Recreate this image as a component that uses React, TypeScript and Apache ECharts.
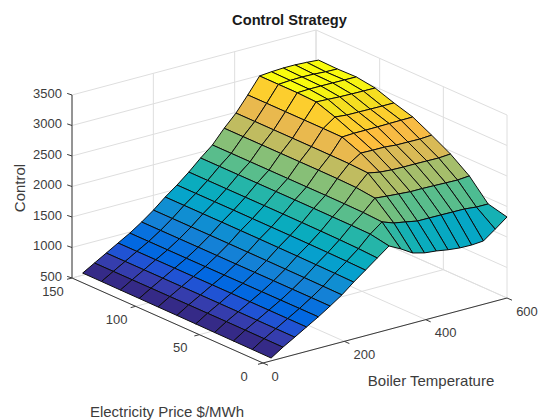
import React, { useEffect, useRef } from "react";
import * as echarts from "echarts";

const titleText = "Control Strategy";
const temperatureLabel = "Boiler Temperature";
const priceLabel = "Electricity Price $/MWh";
const controlLabel = "Control";

const temperatureTicks = [0, 200, 400, 600];
const priceTicks = [0, 50, 100, 150];
const controlTicks = [500, 1000, 1500, 2000, 2500, 3000, 3500];

const temperatures = [20, 49, 78, 107, 136, 165, 194, 223, 252, 281, 310, 339, 368, 397, 426, 455, 484, 513, 542, 571, 600];
const prices = [0, 14.8, 29.6, 44.4, 59.2, 74, 88.8, 103.6, 118.4, 133.2, 148];

// one row per temperature, one column per price
const control = [
  [546, 548, 550, 552, 555, 557, 558, 560, 561, 563, 564],
  [672, 674, 676, 678, 678, 678, 677, 677, 677, 677, 677],
  [785, 786, 787, 788, 788, 789, 789, 789, 789, 789, 789],
  [900, 900, 901, 901, 902, 902, 902, 902, 902, 902, 902],
  [1015, 1015, 1014, 1014, 1014, 1013, 1013, 1013, 1013, 1013, 1013],
  [1140, 1141, 1141, 1142, 1142, 1142, 1143, 1143, 1143, 1143, 1143],
  [1272, 1276, 1280, 1282, 1284, 1285, 1286, 1287, 1287, 1287, 1287],
  [1430, 1436, 1440, 1444, 1446, 1448, 1449, 1450, 1450, 1450, 1450],
  [1575, 1582, 1587, 1590, 1592, 1593, 1594, 1595, 1595, 1595, 1595],
  [1722, 1738, 1746, 1750, 1753, 1755, 1756, 1756, 1756, 1756, 1756],
  [1868, 1925, 1930, 1932, 1934, 1935, 1935, 1935, 1935, 1935, 1935],
  [1768, 2073, 2090, 2095, 2097, 2097, 2097, 2097, 2097, 2097, 2097],
  [1650, 2004, 2274, 2310, 2318, 2320, 2320, 2320, 2320, 2320, 2320],
  [1600, 1970, 2255, 2497, 2512, 2515, 2517, 2517, 2517, 2517, 2517],
  [1580, 1933, 2240, 2460, 2635, 2760, 2763, 2763, 2763, 2763, 2763],
  [1548, 1932, 2225, 2445, 2630, 2770, 2900, 3009, 3022, 3022, 3022],
  [1527, 1930, 2225, 2440, 2630, 2770, 2880, 3000, 3030, 3035, 3040],
  [1523, 1927, 2220, 2440, 2612, 2772, 2878, 2990, 3030, 3040, 3050],
  [1538, 1925, 2215, 2437, 2610, 2775, 2875, 2985, 3028, 3035, 3050],
  [1680, 1905, 2210, 2434, 2607, 2778, 2873, 2982, 3026, 3022, 3040],
  [1828, 1904, 2226, 2448, 2620, 2780, 2873, 2980, 3025, 3017, 3025],
];

const parula = [
  [0.2081,0.1663,0.5292],[0.2116,0.1898,0.5777],[0.2123,0.2138,0.627],[0.2081,0.2386,0.6771],
  [0.1959,0.2645,0.7279],[0.1707,0.2919,0.7792],[0.1253,0.3242,0.8303],[0.0591,0.3598,0.8683],
  [0.0117,0.3875,0.882],[0.006,0.4086,0.8828],[0.0165,0.4266,0.8786],[0.0329,0.443,0.872],
  [0.0498,0.4586,0.8641],[0.0629,0.4737,0.8554],[0.0723,0.4887,0.8467],[0.0779,0.504,0.8384],
  [0.0793,0.52,0.8312],[0.0749,0.5375,0.8263],[0.0641,0.557,0.824],[0.0488,0.5772,0.8228],
  [0.0343,0.5966,0.8199],[0.0265,0.6137,0.8135],[0.0239,0.6287,0.8038],[0.0231,0.6418,0.7913],
  [0.0228,0.6535,0.7768],[0.0267,0.6642,0.7607],[0.0384,0.6743,0.7436],[0.059,0.6838,0.7254],
  [0.0843,0.6928,0.7062],[0.1133,0.7015,0.6859],[0.1453,0.7098,0.6646],[0.1801,0.7177,0.6424],
  [0.2178,0.725,0.6193],[0.2586,0.7317,0.5954],[0.3022,0.7376,0.5712],[0.3482,0.7424,0.5473],
  [0.3953,0.7459,0.5244],[0.442,0.7481,0.5033],[0.4871,0.7491,0.484],[0.53,0.7491,0.4661],
  [0.5709,0.7485,0.4494],[0.6099,0.7473,0.4337],[0.6473,0.7456,0.4188],[0.6834,0.7435,0.4044],
  [0.7184,0.7411,0.3905],[0.7525,0.7384,0.3768],[0.7858,0.7356,0.3633],[0.8185,0.7327,0.3498],
  [0.8507,0.7299,0.336],[0.8824,0.7274,0.3217],[0.9139,0.7258,0.3063],[0.945,0.7261,0.2886],
  [0.9739,0.7314,0.2666],[0.9938,0.7455,0.2403],[0.999,0.7653,0.2164],[0.9955,0.7861,0.1967],
  [0.988,0.8066,0.1794],[0.9789,0.8271,0.1633],[0.9697,0.8481,0.1475],[0.9626,0.8705,0.1309],
  [0.9589,0.8949,0.1132],[0.9598,0.9218,0.0948],[0.9661,0.9514,0.0755],[0.9763,0.9831,0.0538],
];

const T_MAX = 600;
const P_MAX = 150;
const Z_MIN = 500;
const Z_MAX = 3500;

// orthographic view of the 3D box onto the page plane
const project = (t: number, p: number, z: number) => [
  263 + (t / T_MAX) * 244 - (p / P_MAX) * 191,
  363 - (t / T_MAX) * 65 - (p / P_MAX) * 85 - ((z - Z_MIN) / (Z_MAX - Z_MIN)) * 183,
];

const flat = control.flat();
const cMin = Math.min(...flat);
const cMax = Math.max(...flat);
const colorOf = (z: number) => {
  const k = Math.min(63, Math.floor(((z - cMin) / (cMax - cMin)) * 64));
  const c = parula[k];
  return `rgb(${Math.round(c[0] * 255)},${Math.round(c[1] * 255)},${Math.round(c[2] * 255)})`;
};

const GRID = "#dedede";
const AXIS = "#3a3a3a";
const TEXT = "#3c3c3c";
const FONT = "Liberation Sans, Arial, sans-serif";

type Seg = [number[], number[], string];
const gridSegs: Seg[] = [];
controlTicks.forEach((z) => {
  gridSegs.push([[0, P_MAX, z], [T_MAX, P_MAX, z], GRID]);
  gridSegs.push([[T_MAX, P_MAX, z], [T_MAX, 0, z], GRID]);
});
temperatureTicks.forEach((t) => {
  gridSegs.push([[t, 0, Z_MIN], [t, P_MAX, Z_MIN], GRID]);
  gridSegs.push([[t, P_MAX, Z_MIN], [t, P_MAX, Z_MAX], GRID]);
});
priceTicks.forEach((p) => {
  gridSegs.push([[0, p, Z_MIN], [T_MAX, p, Z_MIN], GRID]);
  gridSegs.push([[T_MAX, p, Z_MIN], [T_MAX, p, Z_MAX], GRID]);
});

const axisSegs: Seg[] = [
  [[0, P_MAX, Z_MIN], [0, P_MAX, Z_MAX], AXIS],
  [[0, 0, Z_MIN], [0, P_MAX, Z_MIN], AXIS],
  [[0, 0, Z_MIN], [T_MAX, 0, Z_MIN], AXIS],
];

const cells: number[][] = [];
for (let i = temperatures.length - 2; i >= 0; i--) {
  for (let j = prices.length - 2; j >= 0; j--) cells.push([i, j]);
}

type Label = { text: string; anchor: number[]; dx: number; dy: number; align: string };
const labels: Label[] = [
  ...controlTicks.map((z) => ({ text: String(z), anchor: [0, P_MAX, z], dx: -10, dy: -1.8, align: "right" })),
  ...priceTicks.map((p) => ({ text: String(p), anchor: [0, p, Z_MIN], dx: -19, dy: 13, align: "center" })),
  ...temperatureTicks.map((t) => ({ text: String(t), anchor: [t, 0, Z_MIN], dx: t === 0 ? 12 : 20, dy: 13, align: "center" })),
];

const tickSegments = () => {
  const out: number[][][] = [];
  const add = (a: number[], dx: number, dy: number) => {
    const s = project(a[0], a[1], a[2]);
    out.push([s, [s[0] + dx, s[1] + dy]]);
  };
  controlTicks.forEach((z) => add([0, P_MAX, z], -4.8, -1.6));
  priceTicks.forEach((p) => add([0, p, Z_MIN], -5, 1.3));
  temperatureTicks.forEach((t) => add([t, 0, Z_MIN], 5, 2.2));
  return out;
};

export default function App() {
  const ref = useRef<HTMLDivElement>(null);
  useEffect(() => {
    if (!ref.current) return;
    const chart = echarts.init(ref.current, null, { renderer: "svg" });
    const toPx = (api: any, q: number[]) => api.coord(q);
    chart.setOption({
      animation: false,
      backgroundColor: "#ffffff",
      title: {
        text: titleText,
        left: 284.5,
        top: 7,
        textAlign: "center",
        textStyle: { fontFamily: FONT, fontSize: 14.67, fontWeight: "bold", color: "#1a1a1a" },
      },
      grid: { left: 0, right: 0, top: 0, bottom: 0 },
      xAxis: { type: "value", min: 0, max: 560, show: false },
      yAxis: { type: "value", min: 0, max: 420, inverse: true, show: false },
      series: [
        {
          type: "custom",
          silent: true,
          coordinateSystem: "cartesian2d",
          data: gridSegs.map((_, k) => [k]),
          renderItem: (params: any, api: any) => {
            const [a, b, color] = gridSegs[params.dataIndex];
            const p = toPx(api, project(a[0], a[1], a[2]));
            const q = toPx(api, project(b[0], b[1], b[2]));
            return { type: "line", shape: { x1: p[0], y1: p[1], x2: q[0], y2: q[1] }, style: { stroke: color, lineWidth: 1 } };
          },
        },
        {
          type: "custom",
          silent: true,
          coordinateSystem: "cartesian2d",
          data: cells,
          renderItem: (params: any, api: any) => {
            const [i, j] = cells[params.dataIndex];
            const corner = (a: number, b: number) =>
              toPx(api, project(temperatures[a], prices[b], control[a][b]));
            return {
              type: "polygon",
              shape: { points: [corner(i, j), corner(i + 1, j), corner(i + 1, j + 1), corner(i, j + 1)] },
              style: { fill: colorOf(control[i][j]), stroke: "#0c0c0c", lineWidth: 1, lineJoin: "round" },
            };
          },
        },
        {
          type: "custom",
          silent: true,
          coordinateSystem: "cartesian2d",
          data: axisSegs.map((_, k) => [k]),
          renderItem: (params: any, api: any) => {
            const [a, b, color] = axisSegs[params.dataIndex];
            const p = toPx(api, project(a[0], a[1], a[2]));
            const q = toPx(api, project(b[0], b[1], b[2]));
            return { type: "line", shape: { x1: p[0], y1: p[1], x2: q[0], y2: q[1] }, style: { stroke: color, lineWidth: 1 } };
          },
        },
        {
          type: "custom",
          silent: true,
          coordinateSystem: "cartesian2d",
          data: tickSegments().map((_, k) => [k]),
          renderItem: (params: any, api: any) => {
            const [a, b] = tickSegments()[params.dataIndex];
            const p = toPx(api, a);
            const q = toPx(api, b);
            return { type: "line", shape: { x1: p[0], y1: p[1], x2: q[0], y2: q[1] }, style: { stroke: AXIS, lineWidth: 1 } };
          },
        },
        {
          type: "custom",
          silent: true,
          coordinateSystem: "cartesian2d",
          data: labels.map((_, k) => [k]),
          renderItem: (params: any, api: any) => {
            const l = labels[params.dataIndex];
            const s = project(l.anchor[0], l.anchor[1], l.anchor[2]);
            const p = toPx(api, [s[0] + l.dx, s[1] + l.dy]);
            return {
              type: "text",
              style: {
                text: l.text,
                x: p[0],
                y: p[1],
                fill: TEXT,
                font: `13px ${FONT}`,
                align: l.align,
                verticalAlign: "middle",
              },
            };
          },
        },
      ],
      graphic: [
        { type: "text", x: 431, y: 380, style: { text: temperatureLabel, fill: TEXT, font: `15px ${FONT}`, align: "center", verticalAlign: "middle" } },
        { type: "text", x: 167, y: 411, style: { text: priceLabel, fill: TEXT, font: `15px ${FONT}`, align: "center", verticalAlign: "middle" } },
        { type: "text", x: 19, y: 188, rotation: Math.PI / 2, style: { text: controlLabel, fill: TEXT, font: `15px ${FONT}`, align: "center", verticalAlign: "middle" } },
      ],
    });
    return () => chart.dispose();
  }, []);
  return <div ref={ref} style={{ position: "absolute", left: 0, top: 0, width: 560, height: 420 }} />;
}
